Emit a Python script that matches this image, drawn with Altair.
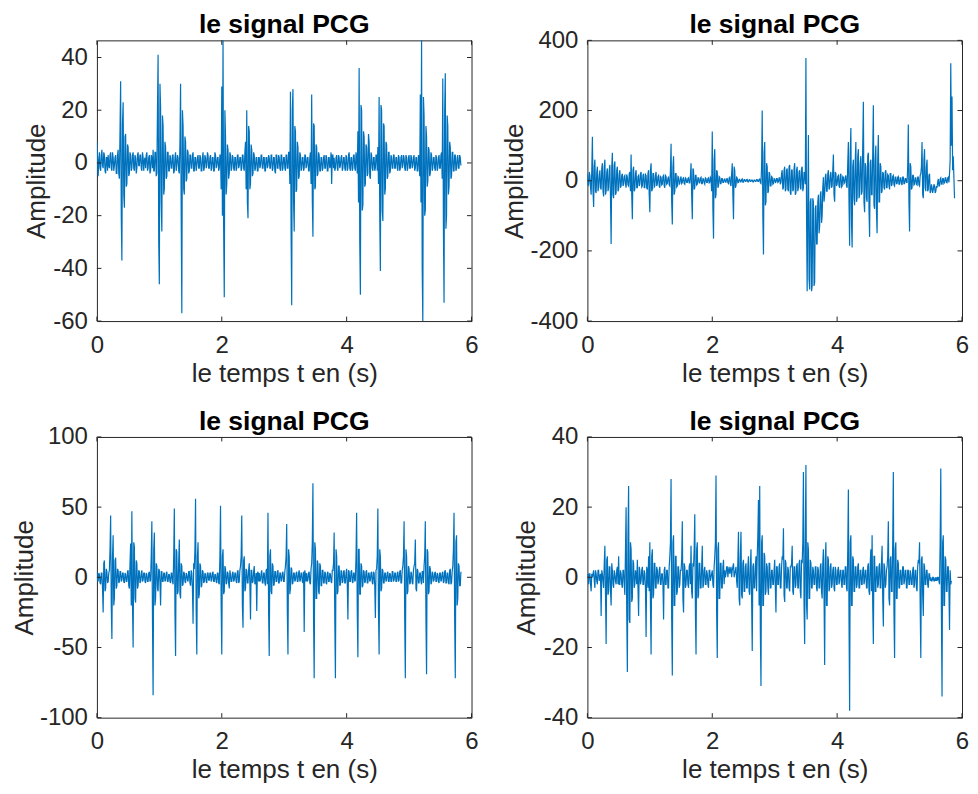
import altair as alt
import pandas as pd

# ---------------- data ----------------
DT = 0.01  # sampling step of the listed values, in seconds

SIG1 = [8, 2, -5, 1, 4, -2, -3, 3, 5, -1, -2, 4, 3, -3, -4, 2, 2, -3, 3, -1,
        -2, 3, 4, -2, -3, 4, 2, -3, -1, 2, 3, -4, -4, 3, 5, -4, -6, 12, 31, -20,
        -37, 15, 23, -12, -17, 10, 11, -9, -8, 7, 6, -5, -4, 4, 3, -3, -2, 3, 4, -2,
        -3, 3, 2, -4, -2, 3, 4, -1, -1, 3, 3, -2, -3, 4, 2, -3, 1, 2, -2, 3,
        4, -3, -2, 2, 3, -4, -3, 3, 2, -2, 5, -3, -3, 4, 4, -5, -4, 20, 41, -30,
        -46, 30, 21, -15, -26, 18, 14, -12, -10, 8, 6, -6, -5, 4, 4, -3, -3, 3, 2, -2,
        -2, 3, 3, -4, -3, 2, 4, -3, -1, 3, 2, -3, -4, 8, 30, -20, -57, 20, 14, -10,
        -12, 10, 8, -7, -6, 5, 4, -4, -3, 3, 3, -2, -2, 3, 4, -3, -3, 2, 2, -3,
        -1, 2, 3, -2, -2, 3, 2, -3, -3, 2, 4, -3, -2, 3, 2, -2, -1, 4, 3, -2,
        -2, 2, 3, -3, -2, 2, 2, -3, -3, 4, 3, -2, -1, 2, 2, -3, -2, 3, 3, -10,
        29, -20, 47, -25, -51, 20, 10, -12, -8, 7, 5, -6, -4, 4, 3, -3, -2, 3, 2, -2,
        -3, 2, 2, -3, -2, 3, 3, -2, -1, 2, 2, -3, -2, 3, 3, -2, -3, 4, 8, -10,
        20, -15, -21, 14, 12, -10, -8, 7, 5, -5, -4, 4, 3, -3, -2, 2, 2, -3, -3, 2,
        2, -2, -1, 3, 3, -2, -2, 2, 2, -3, -3, 2, 2, -2, -1, 3, 2, -2, -2, 3,
        3, -3, -2, 2, 2, -3, -4, 3, 3, -2, -2, 3, 2, -2, -3, 3, 3, -3, -2, 2,
        2, -2, -3, 3, 3, -2, -2, 4, 4, -8, 27, -26, -54, 20, 28, -15, -26, 14, 12, -11,
        -10, 8, 6, -6, -5, 4, 3, -3, -2, 2, 2, -3, -2, 3, 3, -2, -1, 2, 2, -3,
        -3, 2, 4, -8, 26, -14, -28, 15, 14, -10, -9, 7, 6, -5, -4, 4, 3, -3, -3, 2,
        2, -3, -2, 2, 3, -2, -2, 3, 2, -3, -3, 2, 2, -2, -1, 4, -8, 3, 3, -2,
        2, -3, -2, 2, 3, -2, -3, 3, 2, -2, -1, 2, 3, -3, -2, 2, 2, -2, -3, 3,
        2, -3, -2, 3, 4, -2, -3, 2, 2, -3, -2, 3, 3, -2, -3, 4, 2, -4, 12, -15,
        36, -30, -50, 22, 20, -18, -16, 12, 10, -9, -8, 7, 6, -5, -4, 11, 8, -5, -6, 4,
        3, -2, -3, 2, 2, -3, -2, 3, 3, -3, 6, -8, 25, -20, -41, 22, 20, -18, -22, 15,
        14, -12, -10, 8, 7, -6, -5, 4, 4, -4, -3, 3, 2, -2, -2, 3, 3, -2, -2, 2,
        2, -2, -3, 3, 2, -3, -2, 2, 3, -2, -1, 3, 2, -2, -3, 3, 2, -3, -2, 2,
        3, -2, -2, 3, 2, -2, -1, 2, 3, -3, -2, 2, 2, -3, -3, 3, 2, -5, 26, -15,
        47, -40, -61, 25, 18, -20, -18, 14, 10, -9, -7, 6, 5, -5, -4, 4, 3, -3, -2, 2,
        2, -2, -3, 3, 2, -3, -2, 2, 3, -2, -2, 3, 4, -6, 32, -25, -53, 20, 34, -25,
        -20, 18, 14, -12, -9, 8, 6, -6, -5, 4, 4, -3, -3, 3, 3, -3, -2, 2, 3, -2,
        -2, 3, 2, -1]

SIG2 = [20, -15, -10, 25, 15, -20, -40, 30, 125, -30, -75, 40, 60, -30, -35, 25, 40, -30, -20, 15,
        30, -20, -25, 35, 50, -30, -45, 40, 60, -40, -30, 25, 35, -30, -20, 30, 45, -50, -180, 40,
        80, -40, -50, 45, 55, -40, -35, 30, 40, -30, -25, 20, 30, -20, -15, 15, 20, -15, -10, 12,
        15, -10, -20, 18, 10, -12, -15, 20, 25, -30, 75, -40, -110, 30, 40, -30, -25, 20, 30, -20,
        -20, 12, 15, -15, -10, 20, 25, -18, -15, 15, 20, -20, -20, 18, 15, -20, -25, 20, 30, -40,
        -90, 30, 50, -30, -25, 20, 20, -18, -15, 15, 25, -15, -10, 12, 15, -15, -20, 12, 10, -12,
        -10, 12, 15, -15, -20, 15, 12, -10, -8, 8, 10, -12, -15, 30, 105, -60, -125, 40, 70, -40,
        -30, 20, 20, -18, -15, 12, 10, -10, -8, 6, 12, -8, -5, 6, 8, -8, -10, 8, 6, -5,
        -5, 6, 8, -6, -6, 15, 50, -40, -110, 35, 30, -25, -20, 15, 15, -12, -10, 8, 8, -6,
        -6, 8, 10, -8, -8, 6, 5, -6, -10, 8, 6, -5, -5, 6, 8, -6, -4, 10, 6, -30,
        140, -80, -165, 60, 90, -50, -40, 30, 25, -20, -15, 12, 10, -8, -8, 6, 6, -5, -5, 4,
        5, -4, -4, 5, 6, -6, -8, 8, 10, -10, -15, 20, 50, -40, -110, 40, 30, -20, -15, 10,
        8, -6, -5, 4, 4, -3, -3, 3, 5, -4, -4, 3, 3, -2, -2, 3, 4, -3, -3, 2,
        3, -2, -2, 2, 2, -3, -3, 2, 2, -2, -2, 3, 3, -2, -2, 4, 5, -6, -8, 40,
        200, -100, -210, 80, 110, -70, -60, 50, 40, -35, -30, 25, 20, -15, -15, 12, 10, -10, -8, 6,
        5, -5, -4, 6, 6, -5, -3, 8, 8, -10, -5, 20, 30, -25, -20, 30, 40, -30, -25, 30,
        35, -25, -30, 40, 45, -35, -40, 30, 30, -30, -25, 35, 50, -40, -35, 30, 40, -30, -20, 25,
        30, -20, -25, 35, 40, -30, -20, 25, 20, -10, 350, -100, -315, -60, 130, -280, -310, -60, -50, -315,
        -300, -50, -60, -300, -290, -80, -70, -180, -180, -60, -40, -150, -130, -40, -30, -120, -100, -20, 10, -60,
        -40, 10, 20, -30, -30, 20, 30, -25, -20, 15, 25, -20, -15, 30, 75, -40, -60, 25, 20, -15,
        -10, 12, 15, -15, -20, 15, 20, -18, -15, 12, 10, -8, -5, 10, 15, -15, -20, 50, 110, -60,
        -185, 80, 150, -120, -190, 40, 60, -50, -70, 60, 110, -60, -50, 70, 90, -50, -40, 50, 70, -40,
        -30, 100, 225, -60, -90, 50, 40, -50, -60, 70, 80, -80, -160, 50, 60, -40, -40, 80, 215, -70,
        -80, 60, 100, -90, -150, 60, 130, -60, -60, 50, 40, -35, -30, 25, 20, -20, -25, 25, 30, -20,
        -20, 18, 15, -15, -25, 20, 20, -15, -10, 12, 15, -12, -15, 10, 10, -8, -8, 10, 12, -10,
        -10, 8, 8, -8, -12, 10, 10, -8, -8, 6, 6, -5, -5, 40, 160, -60, -145, 50, 40, -25,
        -20, 15, 15, -12, -10, 8, 8, -10, -12, 10, 10, -12, -15, 15, 20, 40, 110, -40, -50, 60,
        90, -20, -30, 40, 60, -30, -25, 15, 20, -35, -30, -10, -20, -35, -25, -10, -15, -35, -30, -15,
        -20, -5, 5, -15, -15, 5, 8, -10, -10, 6, 6, -8, -5, 8, 8, -5, -6, 8, 10, -5,
        20, 60, 335, 100, 240, 30, 70, 10, -50]

SIG3 = [4, -2, -3, 3, 2, -4, -5, 3, 3, -8, -25, 10, 12, -10, -8, 6, 4, -4, -3, 3,
        5, 20, 44, -20, -44, 15, 30, -20, -15, 12, 14, -8, -6, 6, 5, -4, -3, 4, 4, -3,
        -2, 3, 3, -3, -4, 3, 2, -3, -3, 4, 5, -6, -8, 10, 24, -20, 47, -20, -50, 25,
        22, -15, -18, 12, 10, -8, -6, 5, 4, -4, -3, 3, 5, -3, -2, 3, 3, -3, -4, 3,
        2, -3, -3, 3, 4, -3, -2, 15, 40, -30, -84, 20, 32, -20, -15, 10, 8, -8, -10, 6,
        5, -4, -20, 4, 4, -3, -3, 3, 3, -3, -2, 3, 4, -3, -3, 2, 2, -3, -4, 3,
        3, -3, -5, 15, 49, -25, -56, 20, 18, -12, -10, 12, 27, -12, -15, 10, 8, -6, -5, 4,
        3, -3, -4, 3, 2, -2, -3, 4, 4, -4, -6, 5, 3, -8, -33, 10, 6, 20, 56, -25,
        -55, 15, 25, -15, -12, 10, 8, -7, -6, 5, 4, -4, -3, 3, 2, -3, -4, 3, 3, -2,
        -2, 3, 3, -3, -2, 3, 4, -3, -3, 2, 2, -3, -4, 3, 3, -4, -5, 15, 51, -20,
        -55, 15, 20, -12, -10, 8, 6, -5, -4, 4, 3, -4, -8, 5, 2, -3, -3, 3, 4, -3,
        -2, 3, 3, -3, -4, 4, 5, -4, -3, 5, 8, 15, 44, -20, -36, 12, 15, -10, -8, 6,
        5, -4, -4, 5, 10, -5, -30, 5, 5, -4, -3, 4, 8, -5, -4, 3, -24, 3, 4, -3,
        3, -3, -2, 3, 5, -4, -4, 3, 3, -4, -6, 5, 6, -5, 46, -25, -56, 15, 20, -10,
        -12, 10, 8, -6, -5, 4, 4, -3, -3, 4, 5, -4, -4, 3, 3, -3, -2, 3, 4, -3,
        -3, 4, 8, 15, 38, -25, -55, 20, 15, -12, -8, 7, 6, -5, -4, 3, 3, -3, -2, 3,
        4, -3, -3, 3, 5, -3, -2, 3, 3, -3, -4, 4, -39, 5, 2, -3, 3, -3, -2, 3,
        4, -4, -5, 6, 10, 25, 67, -30, -72, 25, 20, -15, -15, 12, 10, -10, -12, 10, 8, -6,
        -6, 5, 5, -4, -4, 4, 3, -4, -5, 3, 4, -3, -3, 3, 2, -3, -4, 5, 5, 10,
        32, -30, -72, 20, 15, -12, -10, 8, 8, -6, -5, 5, 4, -4, -3, 4, 5, -4, -4, 3,
        6, -5, -30, 5, 4, -3, -3, 4, 5, -3, -4, 3, 3, -3, -2, 15, 46, -25, -57, 20,
        20, -12, -12, 10, 8, -7, -6, 5, 4, -4, -3, 4, 5, -4, -4, 3, 3, -3, -2, 3,
        4, -4, -5, 4, 3, -6, -29, 5, 6, 15, 49, -25, -55, 20, 15, -10, -8, 6, 5, -4,
        -4, 3, 3, -3, -2, 3, 4, -3, -3, 3, 2, -3, -3, 4, 4, -3, -2, 3, 3, -3,
        -3, 3, 4, -3, -2, 4, 5, -4, -4, 5, 8, 15, 40, -30, -72, 20, 15, -12, -10, 8,
        6, -5, -4, 4, 3, -4, -5, 5, 8, 10, 27, -8, -10, 6, 5, -4, -4, 3, 3, -3,
        -5, 4, 4, -4, 8, 15, 40, -30, -69, 20, 18, -12, -10, 8, 6, -5, -4, 4, 3, -3,
        -2, 3, 4, -3, -3, 3, 2, -3, -4, 3, 3, -3, -2, 3, 4, -4, -3, 4, 5, -4,
        -4, 3, 3, -4, -5, 5, 6, -5, -4, 4, 8, 20, 46, -30, -72, 25, 30, -20, -15, 10,
        8, -6, -6, 4]

SIG4 = [0, 1, -2, 1, 1, -2, -4, 1, 0, 1, 2, -1, -3, 2, 1, -1, -2, 2, 2, -1,
        0, 1, -11, 2, 1, -1, -3, 4, 9, -5, -19, 5, 6, -5, -4, 3, 3, -4, -8, 4,
        2, -2, -3, 2, 1, -1, -2, 2, 3, -2, 6, -2, -2, 2, 1, -2, -3, 2, 2, -2,
        -5, 8, 20, -10, -27, 12, 26, -12, -13, 10, 8, -7, -6, 5, 4, -3, -2, 2, 1, -2,
        5, -3, -11, 3, 2, -2, -1, 2, 3, -2, -2, 2, 1, -3, -17, 3, 2, -3, 6, -4,
        10, -8, -22, 6, 8, -6, -5, 4, 4, -3, -3, 3, 2, -2, -1, 2, 3, -2, -2, 1,
        1, -2, -12, 2, 3, -2, -2, 2, 2, -3, -3, 3, 6, 10, 28, -12, -28, 10, 12, -8,
        -8, 6, 6, -5, -4, 3, 3, -3, -2, 2, 2, 5, 16, -6, -10, 4, 3, -3, -2, 2,
        2, -2, -3, 3, 4, -2, 9, -4, -6, 4, 3, 8, 18, -10, -22, 8, 10, -6, -5, 4,
        4, -3, -3, 3, 9, -3, -2, 2, 3, -2, -2, 2, 1, -2, -3, 2, 2, -1, 0, 1,
        2, -2, -3, 3, 6, 10, 29, -10, -23, 8, 10, -6, -6, 4, 4, -3, -3, 3, 5, -2,
        2, 0, 1, 3, 3, 0, 2, 3, 1, 2, 3, 0, 2, 3, 4, 0, 1, 2, 3, -1,
        -3, 5, 13, -6, -8, 6, 13, -5, -6, 4, 5, -4, -4, 3, 4, -3, -3, 3, 6, -4,
        -5, 3, 8, -6, -21, 3, 4, -3, -3, 3, 6, -4, 6, 12, 22, -8, 26, -15, -31, 10,
        12, -8, -8, 7, 6, -5, -4, 4, 3, -3, -5, 4, 4, -3, -3, 2, 2, -2, -2, 2,
        5, -3, -10, 3, 3, -2, -2, 3, 4, -3, -3, 3, 6, 5, 14, -5, -7, 5, 4, -3,
        -3, 3, 2, -3, -4, 3, 3, 4, 9, -4, -5, 3, 3, -3, -2, 3, 4, -3, -3, 4,
        5, -4, -6, 5, 4, 10, 30, -8, -19, 10, 32, -8, -12, 10, 8, -6, -6, 5, 4, -3,
        -3, 3, 2, -2, -2, 3, 3, -3, -4, 3, 2, -3, -3, 3, 4, -4, -6, 4, 8, -5,
        -25, 5, 10, -8, -8, 6, 5, -4, -3, 3, 4, -3, -2, 2, 3, -3, -4, 3, 2, -2,
        -2, 2, 3, -2, -1, 2, 2, -2, -3, 2, 2, -2, -2, 3, 3, -3, -4, 8, 25, -12,
        -38, 10, 12, -8, -8, 6, 5, -4, -4, 3, 3, -3, -2, 3, 4, -3, -3, 2, 2, -2,
        -2, 2, 3, -2, -1, 2, 2, -3, -3, 3, 4, -4, -5, 4, 8, -4, 12, -8, -19, 6,
        6, -4, -4, 3, 3, -3, -2, 3, 4, -3, -3, 4, 9, -6, -14, 4, 3, -3, -2, 2,
        3, 6, 16, -6, -8, 5, 6, -4, -4, 10, 30, -10, -23, 8, 10, -6, -6, 5, 4, -3,
        -3, 2, 2, -2, -2, 3, 3, -2, -1, 2, 2, -3, -3, 2, 2, -2, -2, 2, 1, -2,
        -2, 2, 3, -3, -2, 2, 2, -3, -4, 3, 5, 4, 10, -8, -23, 5, 6, -5, -11, 4,
        3, -2, -2, 2, 2, -2, -3, 1, 1, -1, 0, -1, -1, 0, 0, -1, -1, 0, -1, 0,
        -1, 0, 0, -1, -2, 10, 31, -10, -34, 10, 12, -8, -8, 6, 5, -4, -4, 3, 3, -3,
        -15, 2, -2, -1]

SIGNALS = [SIG1, SIG2, SIG3, SIG4]
Y_DOMAINS = [[-60, 46.5], [-400, 400], [-100, 100], [-40, 40]]
Y_TICKS = [[-60, -40, -20, 0, 20, 40],
           [-400, -200, 0, 200, 400],
           [-100, -50, 0, 50, 100],
           [-40, -20, 0, 20, 40]]
X_DOMAIN = [0, 6]
X_TICKS = [0, 2, 4, 6]
TITLE = "le signal PCG"
X_LABEL = "le temps t en (s)"
Y_LABEL = "Amplitude"

# ---------------- style / layout ----------------
W, H = 375, 281
FONT = "Liberation Sans"
AXC = "#262626"
LINE = "#0072BD"
TL = 4.5                       # inward tick length
Y_TITLE_X = [-52.5, -65, -64, -53]


def panel(sig, ydom, yticks, ytx):
    df = pd.DataFrame({"t": [round(i * DT, 2) for i in range(len(sig))], "v": sig})
    xs = alt.Scale(domain=X_DOMAIN, nice=False, zero=False)
    ys = alt.Scale(domain=ydom, nice=False, zero=False)
    xaxis = alt.Axis(values=X_TICKS, ticks=False, tickSize=0, domain=False, grid=False,
                     labelExpr="toString(datum.value)",
                     labelFont=FONT, labelFontSize=24, labelColor=AXC,
                     labelBaseline="alphabetic", labelPadding=31,
                     labelFlush=False, labelOverlap=False,
                     title=X_LABEL, titleFont=FONT, titleFontSize=26,
                     titleFontWeight="normal", titleColor=AXC,
                     titleBaseline="alphabetic", titleAlign="center",
                     titleX=W / 2, titleY=60)
    yaxis = alt.Axis(values=yticks, ticks=False, tickSize=0, domain=False, grid=False,
                     labelExpr="toString(datum.value)",
                     labelFont=FONT, labelFontSize=24, labelColor=AXC,
                     labelAlign="right", labelBaseline="middle", labelPadding=9.5,
                     labelFlush=False, labelOverlap=False,
                     title=Y_LABEL, titleFont=FONT, titleFontSize=26,
                     titleFontWeight="normal", titleColor=AXC,
                     titleAngle=270, titleBaseline="alphabetic", titleAlign="center",
                     titleX=ytx, titleY=H / 2)
    X = alt.X("t:Q", scale=xs, axis=xaxis)
    Y = alt.Y("v:Q", scale=ys, axis=yaxis)

    line = alt.Chart(df).mark_line(color=LINE, strokeWidth=1.2, clip=True).encode(x=X, y=Y)

    xt = pd.DataFrame({"t": X_TICKS})
    yt = pd.DataFrame({"v": yticks})
    rule = dict(color=AXC, strokeWidth=1)
    tick_b = alt.Chart(xt).mark_rule(**rule).encode(x=X, y=alt.value(H), y2=alt.value(H - TL))
    tick_t = alt.Chart(xt).mark_rule(**rule).encode(x=X, y=alt.value(0), y2=alt.value(TL))
    tick_l = alt.Chart(yt).mark_rule(**rule).encode(y=Y, x=alt.value(0), x2=alt.value(TL))
    tick_r = alt.Chart(yt).mark_rule(**rule).encode(y=Y, x=alt.value(W - TL), x2=alt.value(W))

    tdf = pd.DataFrame({"title": [TITLE]})
    ttl = alt.Chart(tdf).mark_text(font=FONT, fontSize=26.5, fontWeight="bold", color="#000000",
                                   baseline="alphabetic", align="center").encode(
        text="title:N", x=alt.value(W / 2), y=alt.value(-7))

    return alt.layer(line, tick_b, tick_t, tick_l, tick_r, ttl).properties(
        width=W, height=H, view=alt.ViewBackground(stroke=AXC, strokeWidth=1))


panels = [panel(s, d, t, x) for s, d, t, x in zip(SIGNALS, Y_DOMAINS, Y_TICKS, Y_TITLE_X)]

chart = alt.ConcatChart(concat=panels, columns=2, spacing={"row": 116, "column": 116},
                        bounds="flush").properties(
    padding={"left": 3, "top": 3, "right": 0, "bottom": 0}
).configure_view(stroke=AXC, strokeWidth=1).configure(background="white")

chart.save("out.html", embed_options={"renderer": "svg", "actions": False})
